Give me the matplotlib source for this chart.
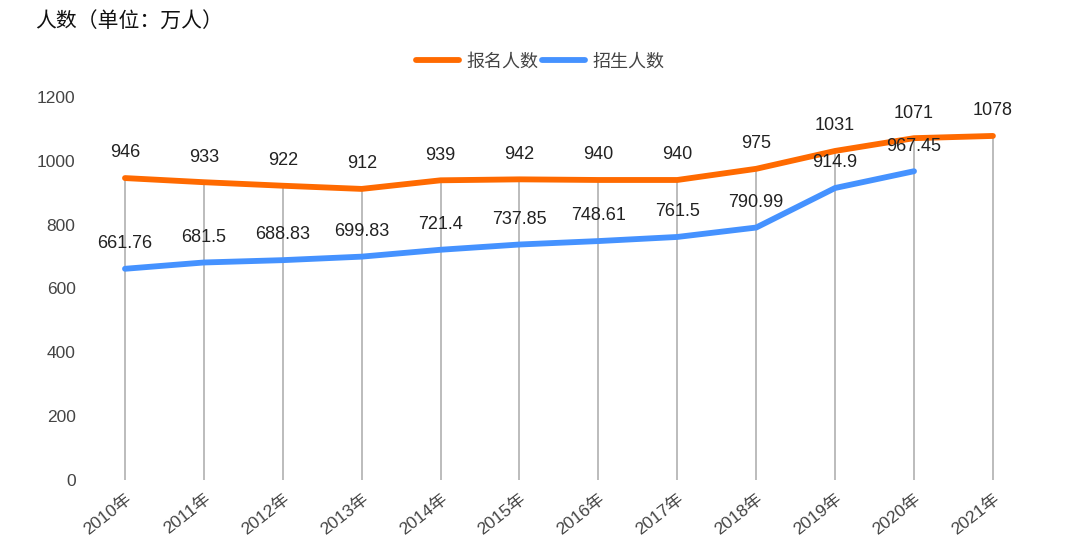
import matplotlib
matplotlib.use('Agg')
import matplotlib.pyplot as plt

plt.rcParams['font.family'] = ['Liberation Sans', 'Noto Sans CJK SC', 'DejaVu Sans']

# Дані
years = ['2010年', '2011年', '2012年', '2013年', '2014年', '2015年',
         '2016年', '2017年', '2018年', '2019年', '2020年', '2021年']
applicants = [946, 933, 922, 912, 939, 942, 940, 940, 975, 1031, 1071, 1078]
admitted = [661.76, 681.5, 688.83, 699.83, 721.4, 737.85, 748.61, 761.5, 790.99, 914.9, 967.45]
applicant_labels = ['946', '933', '922', '912', '939', '942', '940', '940', '975', '1031', '1071', '1078']
admitted_labels = ['661.76', '681.5', '688.83', '699.83', '721.4', '737.85', '748.61', '761.5',
                   '790.99', '914.9', '967.45']

orange = '#ff6a00'
blue = '#4592ff'

fig = plt.figure(figsize=(10.8, 5.5), dpi=100)
ax = fig.add_axes([95 / 1080, 70 / 550, 935 / 1080, 383 / 550])

x_app = list(range(len(applicants)))
x_adm = list(range(len(admitted)))

# вертикальні лінії до точок
ax.vlines(x_app, 0, applicants, color='#b0b0b0', lw=1.2, zorder=1)

l1, = ax.plot(x_app, applicants, color=orange, lw=4.2, solid_capstyle='round', zorder=3, label='报名人数')
l2, = ax.plot(x_adm, admitted, color=blue, lw=4.2, solid_capstyle='round', zorder=3, label='招生人数')

for x, y, t in zip(x_app, applicants, applicant_labels):
    ax.annotate(t, (x, y), xytext=(0, 12), textcoords='offset points',
                ha='center', va='bottom', fontsize=13, color='#222222', zorder=4)
for x, y, t in zip(x_adm, admitted, admitted_labels):
    ax.annotate(t, (x, y), xytext=(0, 12), textcoords='offset points',
                ha='center', va='bottom', fontsize=13, color='#222222', zorder=4)

ax.set_xlim(-0.38, 11.47)
ax.set_ylim(0, 1200)
ax.set_yticks(range(0, 1201, 200))
ax.set_xticks(x_app)
ax.set_xticklabels(years, rotation=38, ha='right', rotation_mode='anchor')
ax.tick_params(axis='both', length=0, labelsize=12.5, labelcolor='#444444')
ax.tick_params(axis='y', pad=14)
ax.tick_params(axis='x', pad=8)
for s in ax.spines.values():
    s.set_visible(False)

fig.text(35 / 1080, 1 - 22 / 550, '人数（单位：万人）', fontsize=15, color='#111111', va='center', ha='left')

fig.legend(handles=[l1, l2], loc='center', bbox_to_anchor=(0.5, 1 - 62 / 550), ncol=2,
           frameon=False, fontsize=13, handlelength=2.4, columnspacing=0.2, handletextpad=0.4,
           labelcolor='#444444')

fig.savefig('out.png', dpi=100)
plt.close(fig)
